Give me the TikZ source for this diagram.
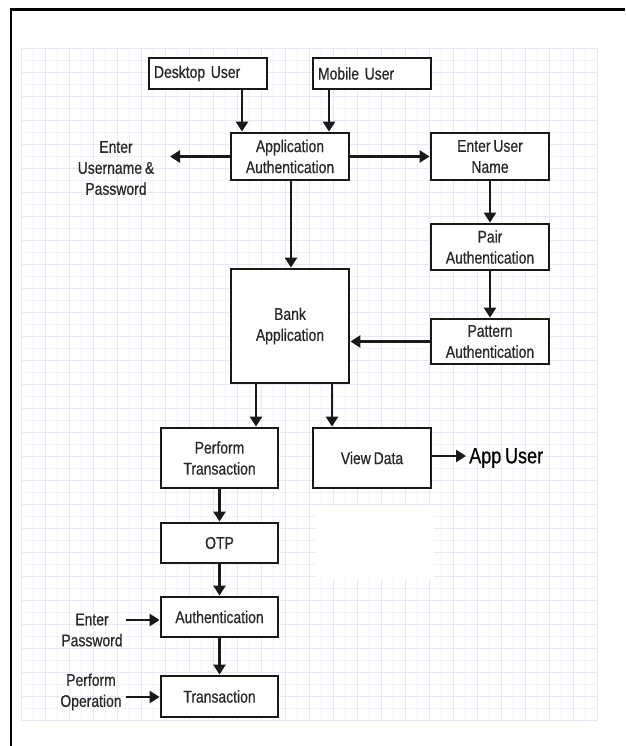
\documentclass[tikz,border=0pt]{standalone}
\usepackage{fontspec}
\setmainfont{Liberation Sans}[FakeStretch=0.82, FakeBold=0.6, WordSpace=0.75]
\usetikzlibrary{arrows.meta}
\definecolor{txt}{RGB}{40,40,40}
\definecolor{gridminor}{RGB}{241,241,250}
\definecolor{gridmajor}{RGB}{231,231,246}
\tikzset{
  box/.style={draw=black!90, line width=2.8pt, fill=white, text=txt, align=center,
    inner sep=2pt, font=\fontsize{17}{21}\selectfont},
  lbl/.style={text=txt, align=center, inner sep=1pt, font=\fontsize{17}{21}\selectfont},
  arr/.style={draw=black!90, line width=2.8pt, -{Triangle[length=10pt,width=12pt]}},
}
\begin{document}
\begin{tikzpicture}[x=1pt,y=-1pt]
\useasboundingbox (0,0) rectangle (625,746);
\fill[white] (0,0) rectangle (625,746);
% grid
\foreach \x in {21,33,...,597} \draw[gridminor, line width=0.8pt] (\x,48) -- (\x,722);
\foreach \y in {48,60,...,720} \draw[gridminor, line width=0.8pt] (21,\y) -- (597,\y);
\foreach \x in {21,45,...,597} \draw[gridmajor, line width=0.9pt] (\x,48) -- (\x,722);
\foreach \y in {48,72,...,720} \draw[gridmajor, line width=0.9pt] (21,\y) -- (597,\y);
\fill[white] (316,505) rectangle (434,578);
% frame
\draw[line width=2.8pt] (625,9.5) -- (11,9.5) -- (11,746);
% boxes
\node[box, minimum width=118pt, minimum height=31pt, text width=108pt, align=left] (desk) at (208,73.5) {Desktop User};
\node[box, minimum width=118pt, minimum height=31pt, text width=108pt, align=left] (mob) at (372,73.5) {Mobile User};
\node[box, minimum width=118pt, minimum height=47pt] (appauth) at (290,156.5) {Application\\Authentication};
\node[box, minimum width=118pt, minimum height=47pt] (eun) at (490,156.5) {Enter User\\Name};
\node[box, minimum width=118pt, minimum height=46pt] (pair) at (490,247) {Pair\\Authentication};
\node[box, minimum width=118pt, minimum height=45pt] (patt) at (490,341.5) {Pattern\\Authentication};
\node[box, minimum width=118pt, minimum height=114pt] (bank) at (290,326) {Bank\\Application};
\node[box, minimum width=117pt, minimum height=60pt] (perf) at (219.5,458) {Perform\\Transaction};
\node[box, minimum width=118pt, minimum height=60pt] (view) at (372,458) {View Data};
\node[box, minimum width=117pt, minimum height=40pt] (otp) at (219.5,543) {OTP};
\node[box, minimum width=117pt, minimum height=40pt] (auth) at (219.5,617) {Authentication};
\node[box, minimum width=117pt, minimum height=41pt] (trans) at (219.5,696.5) {Transaction};
% labels
\node[lbl] (eup) at (116,168) {Enter\\Username \&\\Password};
\node[lbl] (epw) at (92,630) {Enter\\Password};
\node[lbl] (pop) at (91,692) {Perform\\Operation};
\node[text=black, anchor=west, inner sep=3pt, font=\fontsize{22}{26}\selectfont] (appuser) at (466,458) {App User};
\coordinate (eupend) at (170,156.5);
\coordinate (epwout) at (126,620);
\coordinate (popout) at (126,697);
% connectors
\draw[arr] ([xshift=34pt]desk.south) -- ([xshift=34pt]desk.south |- appauth.north);
\draw[arr] ([xshift=-43pt]mob.south) -- ([xshift=-43pt]mob.south |- appauth.north);
\draw[arr] (appauth.west) -- (eupend);
\draw[arr] (appauth.east) -- (eun.west);
\draw[arr] ([xshift=1pt]appauth.south) -- ([xshift=1pt]appauth.south |- bank.north);
\draw[arr] (eun.south) -- (pair.north);
\draw[arr] (pair.south) -- (patt.north);
\draw[arr] (patt.west) -- (patt.west -| bank.east);
\draw[arr] ([xshift=-34pt]bank.south) -- ([xshift=-34pt]bank.south |- perf.north);
\draw[arr] ([xshift=42pt]bank.south) -- ([xshift=42pt]bank.south |- view.north);
\draw[arr] ([yshift=2pt]view.east) -- ([yshift=2pt]view.east -| appuser.west);
\draw[arr] (perf.south) -- (otp.north);
\draw[arr] (otp.south) -- (auth.north);
\draw[arr] (auth.south) -- (trans.north);
\draw[arr] (epwout) -- (epwout -| auth.west);
\draw[arr] (popout) -- (popout -| trans.west);
\end{tikzpicture}
\end{document}
